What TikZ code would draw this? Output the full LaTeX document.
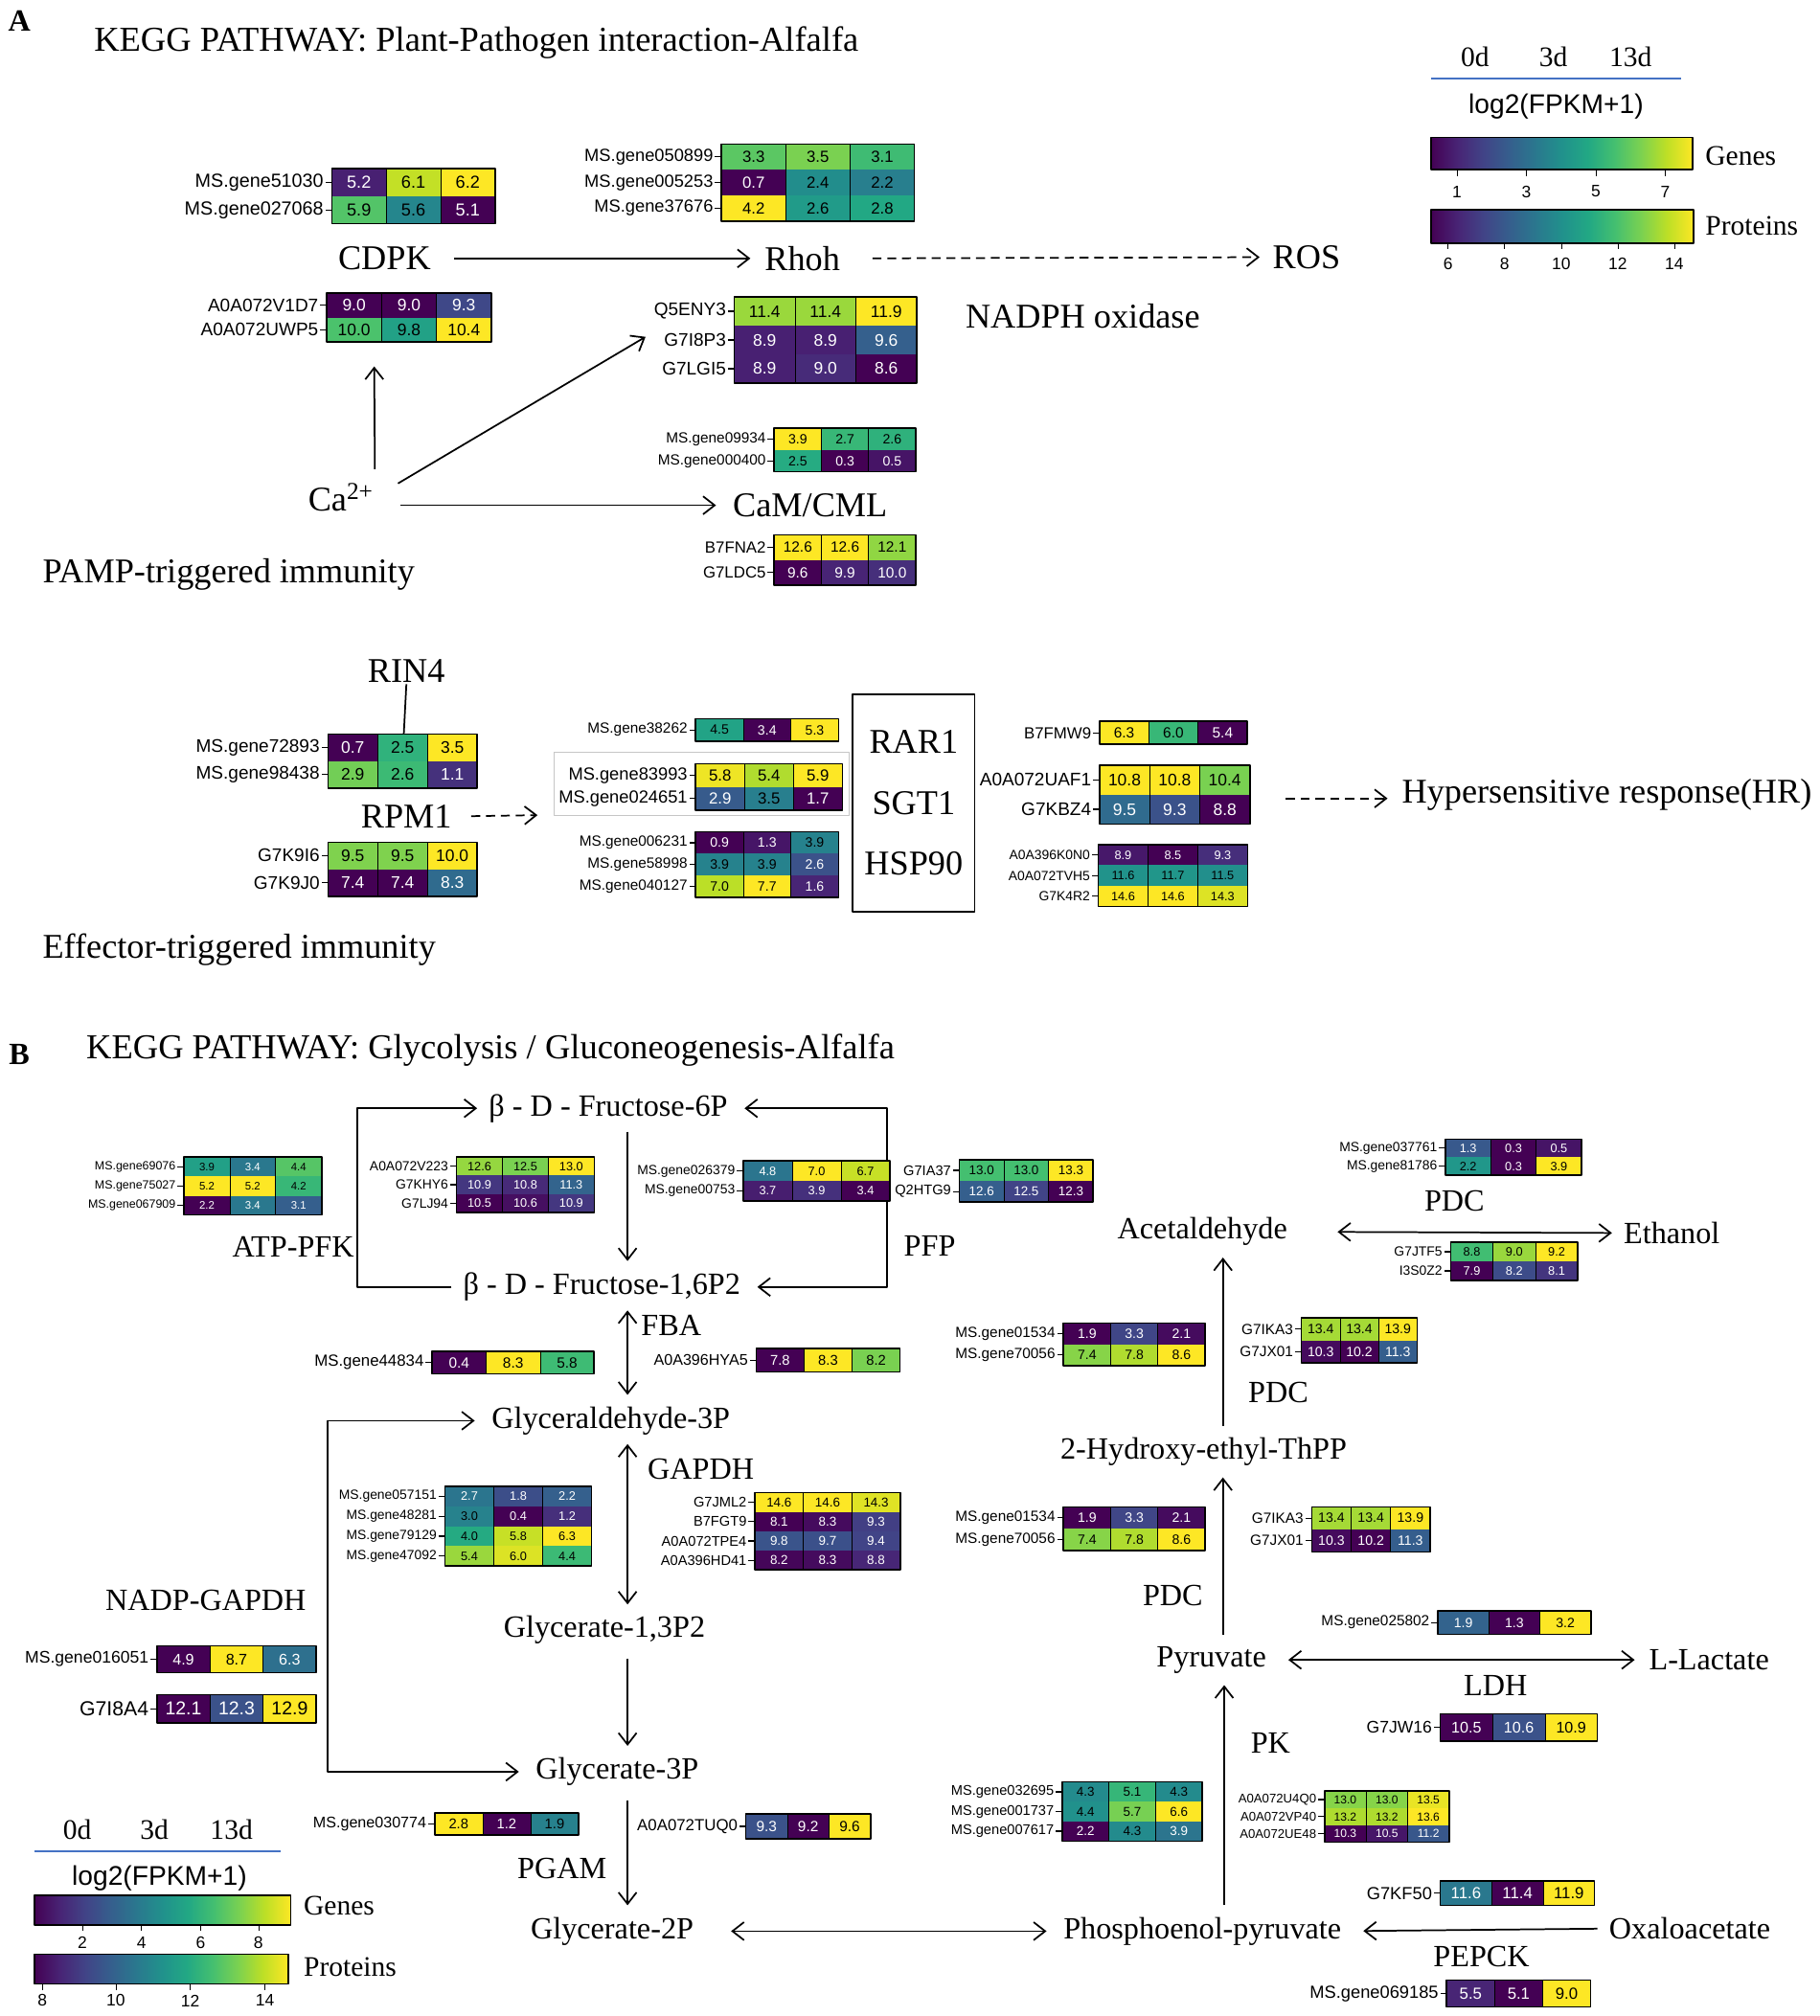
\documentclass[tikz,border=0pt]{standalone}
\usepackage{fontspec}
\setmainfont{Liberation Serif}
\newfontfamily\arial{Liberation Sans}
\usetikzlibrary{arrows.meta,positioning}

% viridis colour steps
\definecolor{vir0}{HTML}{440154}
\definecolor{vir1}{HTML}{482475}
\definecolor{vir2}{HTML}{414487}
\definecolor{vir3}{HTML}{355F8D}
\definecolor{vir4}{HTML}{2A788E}
\definecolor{vir5}{HTML}{21918C}
\definecolor{vir6}{HTML}{22A884}
\definecolor{vir7}{HTML}{44BF70}
\definecolor{vir8}{HTML}{7AD151}
\definecolor{vir9}{HTML}{BDDF26}
\definecolor{vir10}{HTML}{FDE725}
\definecolor{legline}{HTML}{4472C4}

\pgfdeclarehorizontalshading{viridis}{100bp}{color(0bp)=(vir0); color(25bp)=(vir0);
  color(30bp)=(vir1); color(35bp)=(vir2); color(40bp)=(vir3); color(45bp)=(vir4);
  color(50bp)=(vir5); color(55bp)=(vir6); color(60bp)=(vir7); color(65bp)=(vir8);
  color(70bp)=(vir9); color(75bp)=(vir10); color(100bp)=(vir10)}

% colour cellc from a value in [0,1]
\newcommand{\vircolor}[1]{%
  \pgfmathsetmacro\vs{max(min(#1,1),0)*10}%
  \pgfmathtruncatemacro\vi{min(\vs,9.999)}%
  \pgfmathtruncatemacro\vj{\vi+1}%
  \pgfmathtruncatemacro\vp{(\vs-\vi)*100}%
  \colorlet{cellc}{vir\vj!\vp!vir\vi}}

% heat map: name, top left, cell width, cell height, font size, min, max, rows
\newcommand{\hmap}[8]{%
  \pgfmathsetmacro\lfs{#5*1.09}%
  \begin{scope}[shift={#2}, font=\arial\fontsize{#5}{#5}\selectfont]
    \foreach \lab/\va/\vb/\vc [count=\r from 0] in {#8} {
      \foreach \v [count=\k from 0] in {\va,\vb,\vc} {
        \pgfmathsetmacro\tv{(\v-#6)/(#7-#6)}
        \vircolor{\tv}
        \fill[cellc] ({\k*#3},{\r*#4}) rectangle ++(#3,#4);
        \ifdim\tv pt<0.42pt \def\tc{white}\else\def\tc{black}\fi
        \node[text=\tc, inner sep=0pt] (#1-\r-\k) at ({\k*#3+#3/2},{\r*#4+#4/2}) {\v};
      }
      \draw[line width=0.9pt] (0,{\r*#4+#4/2}) -- ++(-5,0)
        node[left, inner xsep=1pt, font=\arial\fontsize{\lfs}{\lfs}\selectfont] (#1-\r) {\lab};
      \xdef\nrows{\r}
    }
    \draw[line width=0.5pt] ({#3},0) -- ({#3},{(\nrows+1)*#4}) ({2*#3},0) -- ({2*#3},{(\nrows+1)*#4});
    \draw[line width=1.2pt] (0,0) rectangle ({3*#3},{(\nrows+1)*#4});
  \end{scope}}

\begin{document}
\begin{tikzpicture}[x=1pt, y=-1pt, >={Straight Barb[length=9pt,width=14pt]}, line join=round,
    lab/.style={font=\fontsize{27}{27}\selectfont, inner sep=1pt},
    labB/.style={font=\fontsize{24}{24}\selectfont, inner sep=1pt},
    ttl/.style={font=\fontsize{27.2}{27.2}\selectfont, anchor=west, inner sep=0pt},
    flow/.style={->, line width=1.3pt},
    dflow/.style={flow, dash pattern=on 7pt off 4.5pt},
    leg/.style={font=\fontsize{22}{22}\selectfont, inner sep=0pt},
    legs/.style={font=\arial\fontsize{21}{21}\selectfont, inner sep=0pt},
    ticklab/.style={font=\arial\fontsize{13}{13}\selectfont, inner sep=0pt}]
  \fill[white] (0,0) rectangle (1415,1568);
  \useasboundingbox (0,0) rectangle (1415,1568);

  %% A: plant-pathogen interaction
  \node[font=\bfseries\fontsize{24}{24}\selectfont] (pA) at (15,16) {A};
  \node[ttl] (ttlA) at (73,33) {KEGG PATHWAY: Plant-Pathogen interaction-Alfalfa};

  % legend
  \node[leg] (l0d) at (1147,44) {0d};
  \node[leg] (l3d) at (1208,44) {3d};
  \node[leg] (l13d) at (1268,44) {13d};
  \draw[legline, line width=1.2pt] (1113,61) -- (1307,61);
  \node[legs] (llog) at (1210,83) {log2(FPKM+1)};
  \shade[shading=viridis] (1113,107) rectangle (1316,132);
  \draw[line width=1.2pt] (1113,107) rectangle (1316,132);
  \foreach \t/\xx in {1/1133,3/1187,5/1241,7/1295} {
    \draw (\xx,132) -- (\xx,137);
    \node[ticklab] (tg\t) at (\xx,149) {\t};
  }
  \node[leg, anchor=west] (lgen) at (1326,121) {Genes};
  \shade[shading=viridis] (1113,163) rectangle (1317,189);
  \draw[line width=1.2pt] (1113,163) rectangle (1317,189);
  \foreach \t/\xx in {6/1126,8/1170,10/1214,12/1258,14/1302} {
    \draw (\xx,189) -- (\xx,194);
    \node[ticklab] (tp\t) at (\xx,205) {\t};
  }
  \node[leg, anchor=west] (lpro) at (1326,176) {Proteins};

  % pathway labels
  \node[lab] (cdpk) at (299,201) {CDPK};
  \node[lab] (rhoh) at (624,201) {Rhoh};
  \node[lab] (ros) at (1016,200) {ROS};
  \node[lab] (nadph) at (842,246) {NADPH oxidase};
  \node[lab] (ca) at (265,387) {Ca\textsuperscript{2+}};
  \node[lab] (cam) at (630,393) {CaM/CML};
  \node[lab, anchor=west] (pamp) at (32,447) {PAMP-triggered immunity};
  \node[lab] (rin4) at (316,522) {RIN4};
  \node[lab] (rpm1) at (316,635) {RPM1};
  \node[lab, anchor=west] (eti) at (32,739) {Effector-triggered immunity};
  \node[draw, line width=1.3pt, minimum width=95pt, minimum height=169pt, align=center,
        font=\fontsize{27}{47.5}\selectfont] (rar) at (710.5,624.5) {RAR1\\SGT1\\HSP90};
  \node[lab, anchor=west] (hr) at (1089,618) {Hypersensitive response(HR)};

  \coordinate (caup) at (291,285);
  \coordinate (rhin) at (502,262);
  \coordinate (rintop) at (314,571);
  \coordinate (rpmend) at (418,634);
  \coordinate (hrstart) at (1000,621);

  \draw[flow, shorten <=17pt, shorten >=10pt] (cdpk.east) -- (rhoh.west);
  \draw[dflow, shorten <=24pt, shorten >=9pt] (rhoh.east) -- (ros.west);
  \draw[flow] ([yshift=10pt]ca.north east) -- (caup);
  \draw[flow] ([shift={(18,-11)}]ca.east) -- (rhin);
  \draw[flow, shorten <=20pt, shorten >=12pt] (ca.east |- cam.west) -- (cam.west);
  \draw[line width=1.3pt] (rin4.south) -- (rintop);
  \draw[dflow, shorten <=14pt] (rpm1.east) -- (rpmend);
  \draw[dflow, shorten >=10pt] (hrstart) -- (hr.west |- hrstart);
  \draw[gray!45, line width=0.8pt] (431,585) rectangle (660,634);

  % heat maps
  \hmap{cdpkg}{(258,131)}{42.3}{21.5}{13.5}{5.1}{6.2}{MS.gene51030/5.2/6.1/6.2, MS.gene027068/5.9/5.6/5.1}
  \hmap{cdpkp}{(254,228)}{42.7}{19}{13}{9.0}{10.4}{A0A072V1D7/9.0/9.0/9.3, A0A072UWP5/10.0/9.8/10.4}
  \hmap{rhohg}{(561,112)}{50}{20}{12.5}{0.7}{4.2}{MS.gene050899/3.3/3.5/3.1, MS.gene005253/0.7/2.4/2.2, MS.gene37676/4.2/2.6/2.8}
  \hmap{rhohp}{(571,231)}{47.3}{22.3}{13}{8.6}{11.9}{Q5ENY3/11.4/11.4/11.9, G7I8P3/8.9/8.9/9.6, G7LGI5/8.9/9.0/8.6}
  \hmap{camg}{(602,333)}{36.7}{17}{10.5}{0.3}{3.9}{MS.gene09934/3.9/2.7/2.6, MS.gene000400/2.5/0.3/0.5}
  \hmap{camp}{(602,416)}{36.7}{19.5}{11.5}{9.6}{12.6}{B7FNA2/12.6/12.6/12.1, G7LDC5/9.6/9.9/10.0}
  \hmap{rin4g}{(255,571)}{38.7}{21}{13}{0.7}{3.5}{MS.gene72893/0.7/2.5/3.5, MS.gene98438/2.9/2.6/1.1}
  \hmap{rpm1p}{(255,655)}{38.7}{21}{13}{7.4}{10.0}{G7K9I6/9.5/9.5/10.0, G7K9J0/7.4/7.4/8.3}
  \hmap{sgtg1}{(541,559)}{37}{17.5}{10.5}{3.4}{5.3}{MS.gene38262/4.5/3.4/5.3}
  \hmap{sgtg2}{(541,594)}{38}{18}{12.5}{1.7}{5.9}{MS.gene83993/5.8/5.4/5.9, MS.gene024651/2.9/3.5/1.7}
  \hmap{sgtg3}{(541,647)}{37}{17}{10.5}{0.9}{7.7}{MS.gene006231/0.9/1.3/3.9, MS.gene58998/3.9/3.9/2.6, MS.gene040127/7.0/7.7/1.6}
  \hmap{hspp1}{(855,561)}{38.3}{18}{11.5}{5.4}{6.3}{B7FMW9/6.3/6.0/5.4}
  \hmap{hspp2}{(855,595)}{39}{23}{13}{8.8}{10.8}{A0A072UAF1/10.8/10.8/10.4, G7KBZ4/9.5/9.3/8.8}
  \hmap{hspp3}{(854,657)}{38.7}{16}{9.5}{8.5}{14.6}{A0A396K0N0/8.9/8.5/9.3, A0A072TVH5/11.6/11.7/11.5, G7K4R2/14.6/14.6/14.3}

  %% B: glycolysis / gluconeogenesis
  \node[font=\bfseries\fontsize{24}{24}\selectfont] (pB) at (15,820) {B};
  \node[ttl] (ttlB) at (67,817) {KEGG PATHWAY: Glycolysis / Gluconeogenesis-Alfalfa};

  \node[labB] (f6p) at (473,862) {β - D - Fructose-6P};
  \node[labB] (f16) at (468,1001) {β - D - Fructose-1,6P2};
  \node[labB] (atppfk) at (228,970) {ATP-PFK};
  \node[labB] (pfp) at (723,969) {PFP};
  \node[labB] (fba) at (522,1031) {FBA};
  \node[labB] (g3p) at (475,1105) {Glyceraldehyde-3P};
  \node[labB] (gapdh) at (545,1143) {GAPDH};
  \node[labB] (nadpgapdh) at (160,1245) {NADP-GAPDH};
  \node[labB] (g13p) at (470,1268) {Glycerate-1,3P2};
  \node[labB] (g3pp) at (480,1378) {Glycerate-3P};
  \node[labB] (pgam) at (437,1453) {PGAM};
  \node[labB] (g2p) at (476,1502) {Glycerate-2P};
  \node[labB] (pep) at (935,1502) {Phosphoenol-pyruvate};
  \node[labB] (oaa) at (1314,1500) {Oxaloacetate};
  \node[labB] (pepck) at (1152,1522) {PEPCK};
  \node[labB] (pk) at (988,1356) {PK};
  \node[labB] (pyr) at (942,1291) {Pyruvate};
  \node[labB] (lac) at (1329,1291) {L-Lactate};
  \node[labB] (ldh) at (1163,1311) {LDH};
  \node[labB] (pdc1) at (912,1241) {PDC};
  \node[labB] (hetpp) at (936,1129) {2-Hydroxy-ethyl-ThPP};
  \node[labB] (pdc2) at (994,1083) {PDC};
  \node[labB] (acet) at (935,958) {Acetaldehyde};
  \node[labB] (eth) at (1300,959) {Ethanol};
  \node[labB] (pdc3) at (1131,934) {PDC};

  \coordinate (colx) at (488,0);
  \coordinate (pfkx) at (278,0);
  \coordinate (pfpx) at (690,0);
  \coordinate (nadpx) at (255,0);
  \coordinate (pkx) at (952,0);
  \coordinate (pdcx) at (951,0);

  \draw[flow, shorten <=8pt, shorten >=8pt] (f16.west) -- (pfkx |- f16.west) -- (pfkx |- f6p.west) -- (f6p.west);
  \draw[flow, <->, shorten <=12pt, shorten >=12pt] (f6p.east) -- (pfpx |- f6p.east) -- (pfpx |- f16.east) -- (f16.east);
  \draw[flow, shorten <=6pt, shorten >=8pt] (f6p.south -| colx) -- (f16.north -| colx);
  \draw[flow, <->, shorten <=6pt, shorten >=8pt] (f16.south -| colx) -- (g3p.north -| colx);
  \draw[flow, <->, shorten <=6pt, shorten >=8pt] (g3p.south -| colx) -- (g13p.north -| colx);
  \draw[flow, shorten <=10pt, shorten >=8pt] (g13p.south -| colx) -- (g3pp.north -| colx);
  \draw[flow, shorten <=10pt, shorten >=8pt] (g3pp.south -| colx) -- (g2p.north -| colx);
  \draw[flow, <->, shorten <=12pt, shorten >=12pt] (g3p.west) -- (nadpx |- g3p.west) -- (nadpx |- g3pp.west) -- (g3pp.west);
  \draw[flow, <->, shorten <=28pt, shorten >=12pt] (g2p.east) -- (pep.west);
  \draw[flow, shorten <=8pt, shorten >=16pt] (oaa.west) -- (pep.east);
  \draw[flow, shorten <=8pt, shorten >=8pt] (pep.north -| pkx) -- (pyr.south -| pkx);
  \draw[flow, shorten <=8pt, shorten >=8pt] (pyr.north -| pdcx) -- (hetpp.south -| pdcx);
  \draw[flow, shorten <=8pt, shorten >=8pt] (hetpp.north -| pdcx) -- (acet.south -| pdcx);
  \draw[flow, <->, shorten <=16pt, shorten >=10pt] (pyr.east) -- (lac.west);
  \draw[flow, <->, shorten <=38pt, shorten >=8pt] (acet.east) -- (eth.west);

  % heat maps
  \hmap{pfkg}{(143,900)}{35.7}{15}{8.5}{2.2}{5.2}{MS.gene69076/3.9/3.4/4.4, MS.gene75027/5.2/5.2/4.2, MS.gene067909/2.2/3.4/3.1}
  \hmap{pfkp}{(355,900)}{35.7}{14.3}{9.5}{10.5}{13.0}{A0A072V223/12.6/12.5/13.0, G7KHY6/10.9/10.8/11.3, G7LJ94/10.5/10.6/10.9}
  \hmap{pfpg}{(578,903)}{38}{15.5}{9.5}{3.4}{7.0}{MS.gene026379/4.8/7.0/6.7, MS.gene00753/3.7/3.9/3.4}
  \hmap{pfpp}{(746,902)}{34.7}{16.5}{10}{12.3}{13.3}{G7IA37/13.0/13.0/13.3, Q2HTG9/12.6/12.5/12.3}
  \hmap{pdc3g}{(1124,886)}{35.3}{14}{9.5}{0.3}{3.9}{MS.gene037761/1.3/0.3/0.5, MS.gene81786/2.2/0.3/3.9}
  \hmap{pdc3p}{(1128,966)}{33}{15}{9.5}{7.9}{9.2}{G7JTF5/8.8/9.0/9.2, I3S0Z2/7.9/8.2/8.1}
  \hmap{fbag}{(336,1051)}{42}{17.5}{11.5}{0.4}{8.3}{MS.gene44834/0.4/8.3/5.8}
  \hmap{fbap}{(588,1049)}{37.3}{18}{11}{7.8}{8.3}{A0A396HYA5/7.8/8.3/8.2}
  \hmap{pdc2g}{(827,1029)}{36.7}{16.5}{10.5}{1.9}{8.6}{MS.gene01534/1.9/3.3/2.1, MS.gene70056/7.4/7.8/8.6}
  \hmap{pdc2p}{(1012,1025)}{30}{17.5}{10.5}{10.2}{13.9}{G7IKA3/13.4/13.4/13.9, G7JX01/10.3/10.2/11.3}
  \hmap{gapg}{(346,1156)}{38}{15.5}{9.5}{0.4}{6.3}{MS.gene057151/2.7/1.8/2.2, MS.gene48281/3.0/0.4/1.2, MS.gene79129/4.0/5.8/6.3, MS.gene47092/5.4/6.0/4.4}
  \hmap{gapp}{(587,1161)}{37.7}{15}{10}{8.1}{14.6}{G7JML2/14.6/14.6/14.3, B7FGT9/8.1/8.3/9.3, A0A072TPE4/9.8/9.7/9.4, A0A396HD41/8.2/8.3/8.8}
  \hmap{pdc1g}{(827,1172)}{36.7}{17}{10.5}{1.9}{8.6}{MS.gene01534/1.9/3.3/2.1, MS.gene70056/7.4/7.8/8.6}
  \hmap{pdc1p}{(1020,1172)}{30.7}{17.5}{10.5}{10.2}{13.9}{G7IKA3/13.4/13.4/13.9, G7JX01/10.3/10.2/11.3}
  \hmap{ldhg}{(1118,1253)}{39.7}{18}{10.5}{1.3}{3.2}{MS.gene025802/1.9/1.3/3.2}
  \hmap{nadpg}{(122,1280)}{41.3}{21}{12}{4.9}{8.7}{MS.gene016051/4.9/8.7/6.3}
  \hmap{nadpp}{(122,1318)}{41.3}{22}{14.5}{12.1}{12.9}{G7I8A4/12.1/12.3/12.9}
  \hmap{ldhp}{(1120,1333)}{40.7}{21}{12}{10.5}{10.9}{G7JW16/10.5/10.6/10.9}
  \hmap{pkg}{(826,1386)}{36.3}{15.3}{10}{2.2}{6.6}{MS.gene032695/4.3/5.1/4.3, MS.gene001737/4.4/5.7/6.6, MS.gene007617/2.2/4.3/3.9}
  \hmap{pkp}{(1030,1393)}{32.3}{13.3}{9}{10.3}{13.6}{A0A072U4Q0/13.0/13.0/13.5, A0A072VP40/13.2/13.2/13.6, A0A072UE48/10.3/10.5/11.2}
  \hmap{pgamg}{(338,1410)}{37.3}{17}{11}{1.2}{2.8}{MS.gene030774/2.8/1.2/1.9}
  \hmap{pgamp}{(580,1411)}{32.3}{19}{11.5}{9.2}{9.6}{A0A072TUQ0/9.3/9.2/9.6}
  \hmap{pepckp}{(1120,1463)}{40}{19}{12.5}{11.4}{11.9}{G7KF50/11.6/11.4/11.9}
  \hmap{pepckg}{(1125,1540)}{37.3}{21}{12.5}{5.1}{9.0}{MS.gene069185/5.5/5.1/9.0}

  % legend
  \node[leg] (b0d) at (60,1423) {0d};
  \node[leg] (b3d) at (120,1423) {3d};
  \node[leg] (b13d) at (180,1423) {13d};
  \draw[legline, line width=1.2pt] (27,1440) -- (218,1440);
  \node[legs] (blog) at (124,1461) {log2(FPKM+1)};
  \shade[shading=viridis] (27,1474) rectangle (226,1497);
  \draw[line width=1.2pt] (27,1474) rectangle (226,1497);
  \foreach \t/\xx in {2/64,4/110,6/156,8/201} {
    \draw (\xx,1497) -- (\xx,1502);
    \node[ticklab] (bg\t) at (\xx,1511) {\t};
  }
  \node[leg, anchor=west] (bgen) at (236,1482) {Genes};
  \shade[shading=viridis] (27,1520) rectangle (224,1543);
  \draw[line width=1.2pt] (27,1520) rectangle (224,1543);
  \foreach \t/\xx in {8/33,10/90,12/148,14/206} {
    \draw (\xx,1543) -- (\xx,1548);
    \node[ticklab] (bp\t) at (\xx,1556) {\t};
  }
  \node[leg, anchor=west] (bpro) at (236,1530) {Proteins};
\end{tikzpicture}
\end{document}
